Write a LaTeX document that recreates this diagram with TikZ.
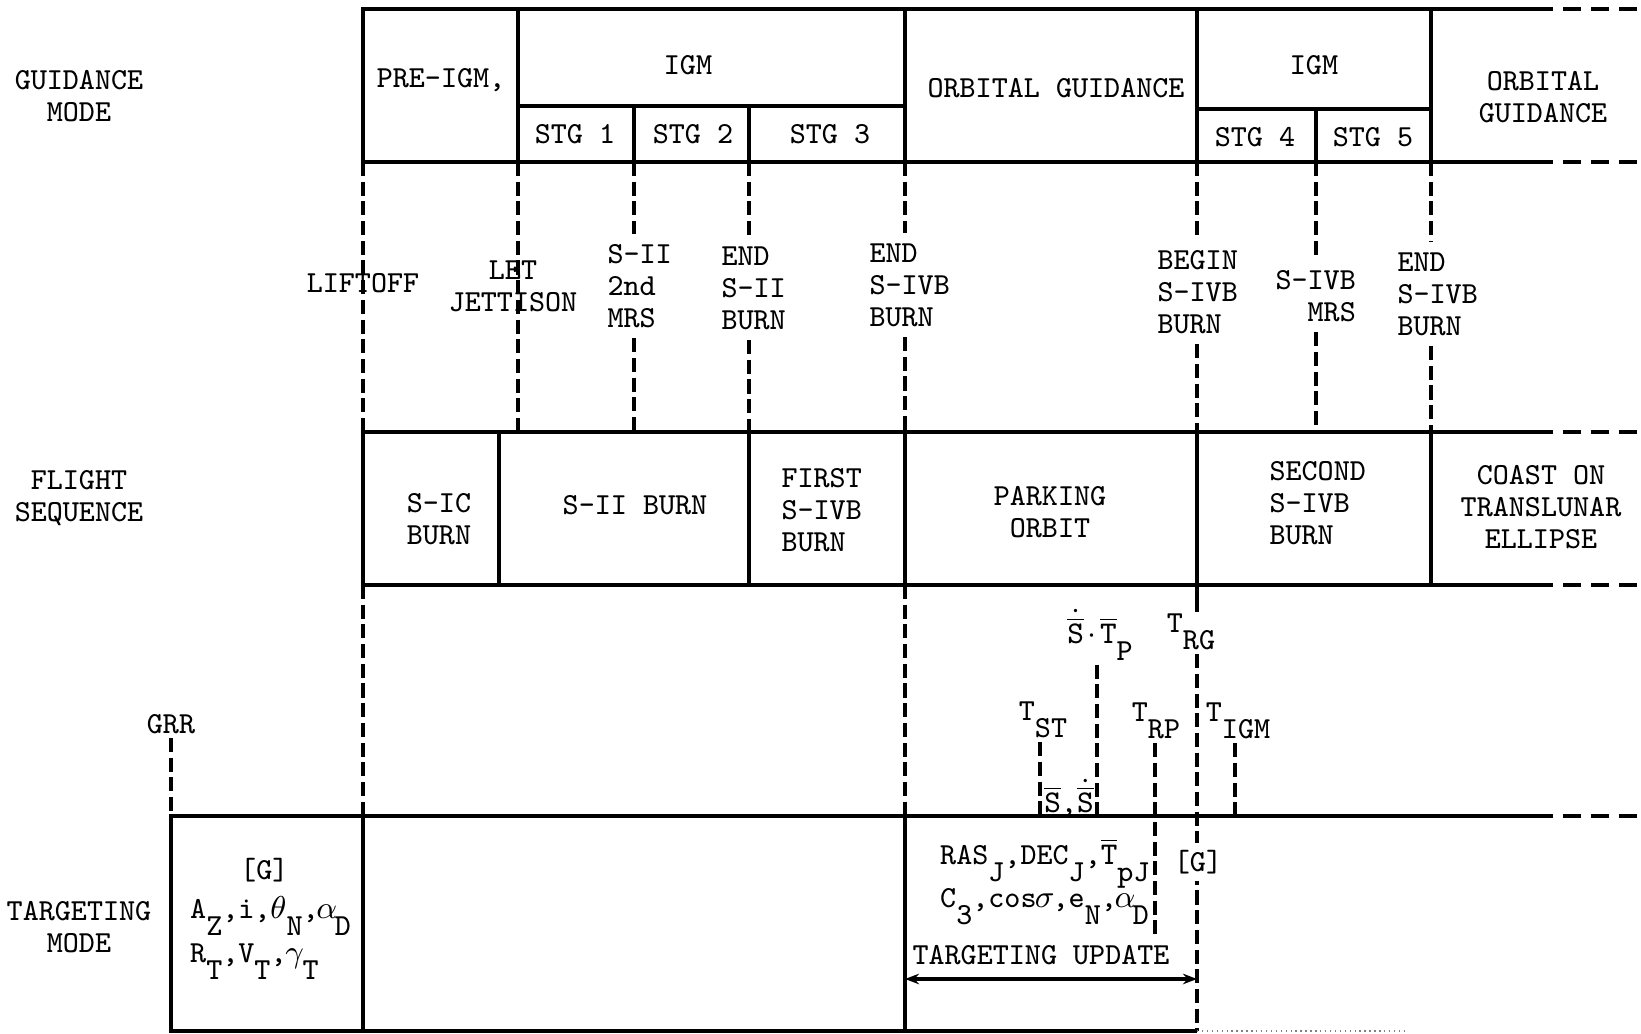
\documentclass[tikz,border=0pt]{standalone}
\usetikzlibrary{arrows.meta}

\newcommand{\dn}[1]{\raisebox{-0.55em}{#1}}
\newcommand{\gk}[1]{\makebox[0.525em]{$#1$}}
\newcommand{\ov}[1]{$\overline{\mathtt{#1}}$}
\newcommand{\ovd}[1]{$\dot{\overline{\mathtt{#1}}}$}

\begin{document}
\begin{tikzpicture}[x=0.01cm,y=-0.01cm,
    grid/.style={line width=1.2pt},
    tail/.style={line width=1.2pt,dash pattern=on 5pt off 3pt},
    evt/.style={line width=1.3pt,dash pattern=on 4pt off 1.6pt},
    txt/.style={font=\ttfamily\fontsize{8.7}{9.1}\selectfont,align=center,inner sep=1pt},
    ltxt/.style={txt,align=left,anchor=west,outer sep=2pt},
    cut/.style={txt,fill=white,inner sep=2pt}]
  \useasboundingbox (0,0) rectangle (1641,1034);

  % Guidance mode
  \node[txt] (gmode) at (79,96) {GUIDANCE\\MODE};
  \draw[grid] (363,9) rectangle (518,162);
  \draw[grid] (518,9) rectangle (905,106);
  \draw[grid] (518,106) rectangle (634,162);
  \draw[grid] (634,106) rectangle (749,162);
  \draw[grid] (749,106) rectangle (905,162);
  \draw[grid] (905,9) rectangle (1197,162);
  \draw[grid] (1197,9) rectangle (1431,109);
  \draw[grid] (1197,109) rectangle (1316,162);
  \draw[grid] (1316,109) rectangle (1431,162);
  \draw[grid] (1431,9) -- (1535,9);
  \draw[grid] (1431,162) -- (1535,162);
  \draw[tail] (1535,9) -- (1641,9);
  \draw[tail] (1535,162) -- (1641,162);
  \node[txt] (preigm) at (441,80) {PRE-IGM,};
  \node[txt] (igma) at (688,65) {IGM};
  \node[txt] (stga) at (575,134) {STG 1};
  \node[txt] (stgb) at (693,134) {STG 2};
  \node[txt] (stgc) at (830,134) {STG 3};
  \node[txt] (orba) at (1056,88) {ORBITAL GUIDANCE};
  \node[txt] (igmb) at (1314,65) {IGM};
  \node[txt] (stgd) at (1255,137) {STG 4};
  \node[txt] (stge) at (1373,137) {STG 5};
  \node[txt] (orbb) at (1543,97) {ORBITAL\\GUIDANCE};

  % Events
  \node[txt] (liftoff) at (363,283) {LIFTOFF};
  \node[txt] (jett) at (513,286) {LET\\JETTISON};
  \node[ltxt] (mrsa) at (597,286) {S-II\\2nd\\MRS};
  \node[ltxt] (endsii) at (711,288) {END\\S-II\\BURN};
  \node[ltxt] (endsivb) at (859,285) {END\\S-IVB\\BURN};
  \node[ltxt] (begsivb) at (1147,292) {BEGIN\\S-IVB\\BURN};
  \node[ltxt] (mrsb) at (1265,296) {S-IVB\\\phantom{S-}MRS};
  \node[ltxt] (endsivbb) at (1387,294) {END\\S-IVB\\BURN};
  \coordinate (e3) at (634,162);
  \coordinate (e4) at (749,162);
  \coordinate (e5) at (905,162);
  \coordinate (e6) at (1197,162);
  \coordinate (e7) at (1316,162);
  \coordinate (e8) at (1431,162);
  \draw[evt] (363,162) -- (363,432);
  \draw[evt] (518,162) -- (518,432);
  \draw[evt] (e3) -- (e3 |- mrsa.north);
  \draw[evt] (e3 |- mrsa.south) -- (634,432);
  \draw[evt] (e4) -- (e4 |- endsii.north);
  \draw[evt] (e4 |- endsii.south) -- (749,432);
  \draw[evt] (e5) -- (e5 |- endsivb.north);
  \draw[evt] (e5 |- endsivb.south) -- (905,432);
  \draw[evt] (e6) -- (e6 |- begsivb.north);
  \draw[evt] (e6 |- begsivb.south) -- (1197,432);
  \draw[evt] (e7) -- (e7 |- mrsb.north);
  \draw[evt] (e7 |- mrsb.south) -- (1316,432);
  \draw[evt] (e8) -- (e8 |- endsivbb.north);
  \draw[evt] (e8 |- endsivbb.south) -- (1431,432);

  % Flight sequence
  \node[txt] (fseq) at (79,498) {FLIGHT\\SEQUENCE};
  \draw[grid] (363,432) rectangle (499,585);
  \draw[grid] (499,432) rectangle (749,585);
  \draw[grid] (749,432) rectangle (905,585);
  \draw[grid] (905,432) rectangle (1197,585);
  \draw[grid] (1197,432) rectangle (1431,585);
  \draw[grid] (1431,432) -- (1535,432);
  \draw[grid] (1431,585) -- (1535,585);
  \draw[tail] (1535,432) -- (1641,432);
  \draw[tail] (1535,585) -- (1641,585);
  \node[txt] (sic) at (439,519) {S-IC\\BURN};
  \node[txt] (sii) at (635,505) {S-II BURN};
  \node[ltxt] (first) at (771,510) {FIRST\\S-IVB\\BURN};
  \node[txt] (park) at (1050,512) {PARKING\\ORBIT};
  \node[ltxt] (second) at (1259,503) {SECOND\\S-IVB\\BURN};
  \node[txt] (coast) at (1541,507) {COAST ON\\TRANSLUNAR\\ELLIPSE};

  % Targeting events
  \node[txt] (grr) at (171,724) {GRR};
  \node[txt] (stp) at (1100,635) {\ovd{S}\gk{\cdot}\ov{T}\dn{P}};
  \node[txt] (trg) at (1191,632) {T\dn{RG}};
  \node[txt] (tst) at (1043,720) {T\dn{ST}};
  \node[txt] (trp) at (1156,721) {T\dn{RP}};
  \node[txt] (tigm) at (1238,721) {T\dn{IGM}};
  \node[txt] (ss) at (1069,798) {\ov{S},\ovd{S}};
  \coordinate (b1) at (171,816);
  \coordinate (b2) at (1040,816);
  \coordinate (b3) at (1097,816);
  \coordinate (b4) at (1155,816);
  \coordinate (b5) at (1235,816);
  \coordinate (b6) at (1197,1031);
  \draw[evt] (363,585) -- (363,816);
  \draw[evt] (905,585) -- (905,816);
  \draw[grid] (1197,585) -- (1197,612);
  \draw[evt] (grr.south -| b1) -- (b1);
  \draw[evt] (tst.south -| b2) -- (b2);
  \draw[evt] (stp.south -| b3) -- (b3);
  \draw[evt] (trp.south -| b4) -- (1155,937);
  \draw[evt] (tigm.south -| b5) -- (b5);
  \draw[evt] (trg.south -| b6) -- (b6);

  % Targeting mode
  \node[txt] (tmode) at (79,927) {TARGETING\\MODE};
  \draw[grid] (171,816) -- (1535,816);
  \draw[tail] (1535,816) -- (1641,816);
  \draw[grid] (171,816) rectangle (363,1031);
  \draw[grid] (363,1031) -- (1197,1031);
  \draw[grid] (905,816) -- (905,1031);
  \draw[gray,densely dotted] (1197,1031) -- (1405,1031);
  \draw[grid,{Stealth[length=4pt,width=3pt]}-{Stealth[length=4pt,width=3pt]}] (905,979) -- (1197,979);
  \node[txt,anchor=base west] (ga) at (236,880) {[G]};
  \node[txt,anchor=base west] (az) at (186,919) {A\dn{Z},i,\gk{\theta}\dn{N},\gk{\alpha}\dn{D}};
  \node[txt,anchor=base west] (rt) at (186,963) {R\dn{T},V\dn{T},\gk{\gamma}\dn{T}};
  \node[txt,anchor=base west] (ras) at (936,865) {RAS\dn{J},DEC\dn{J},\ov{T}\dn{pJ}};
  \node[txt,anchor=base west] (cthree) at (936,908) {C\dn{3},cos\gk{\sigma},e\dn{N},\gk{\alpha}\dn{D}};
  \node[txt] (tgu) at (1041,955) {TARGETING UPDATE};
  \node[cut] (gb) at (1198,862) {[G]};
\end{tikzpicture}
\end{document}
